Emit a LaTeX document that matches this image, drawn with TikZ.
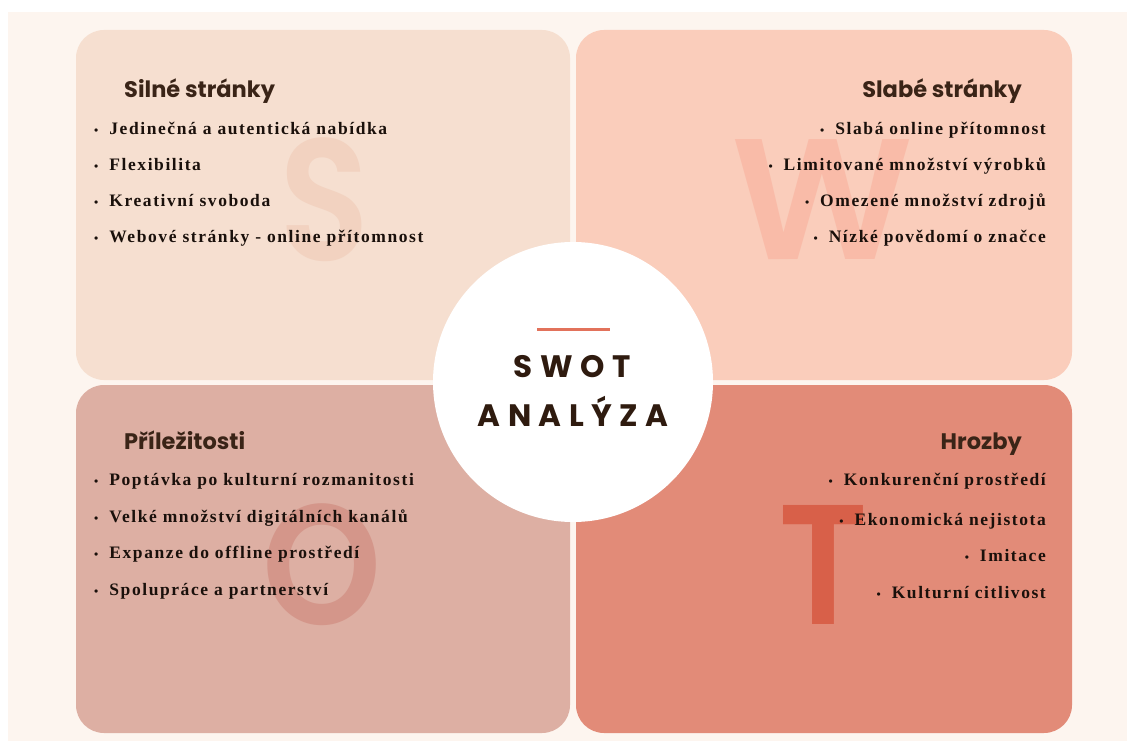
\documentclass[tikz,border=0pt]{standalone}
\usepackage{fontspec}
\setmainfont{Liberation Serif}
\newfontfamily\itemfont[LetterSpace=9]{Liberation Serif}
\newfontfamily\headfont{Poppins}
\newfontfamily\bigfont{Poppins SemiBold}
\newfontfamily\swotfont[LetterSpace=24]{Poppins}
\definecolor{bgcol}{HTML}{FDF5EF}
\definecolor{tlcol}{HTML}{F6DFD0}
\definecolor{trcol}{HTML}{FACDBB}
\definecolor{blcol}{HTML}{DDAFA3}
\definecolor{brcol}{HTML}{E28B78}
\definecolor{scol}{HTML}{F2D2C0}
\definecolor{wcol}{HTML}{F9BBA8}
\definecolor{ocol}{HTML}{D4968A}
\definecolor{tcol}{HTML}{D86049}
\definecolor{itemcol}{HTML}{1A100B}
\definecolor{headcol}{HTML}{3A2417}
\definecolor{swotcol}{HTML}{2F1B0F}
\definecolor{linecol}{HTML}{E2725B}
\newcommand{\bul}{{\fontsize{12}{12}\selectfont\textbullet}\hspace{11pt}}
\begin{document}
\begin{tikzpicture}[x=1pt,y=-1pt,
  itm/.style={font=\itemfont\bfseries\fontsize{17.5}{20}\selectfont, text=itemcol, inner sep=0pt},
  hd/.style={font=\headfont\bfseries\fontsize{22.5}{26}\selectfont, text=headcol, inner sep=0pt},
  big/.style={inner sep=0pt, font=\bigfont},
  swot/.style={font=\swotfont\bfseries\fontsize{31}{34}\selectfont, text=swotcol, inner sep=0pt},
  quad/.style={rounded corners=28pt}]
\useasboundingbox (0,0) rectangle (1127,741);
\fill[bgcol] (7.5,12) rectangle (1127,741);
\fill[tlcol, quad] (76,30) rectangle (570,380);
\fill[trcol, quad] (576,30) rectangle (1072,380);
\fill[blcol, quad] (76,385) rectangle (570,733);
\fill[brcol, quad] (576,385) rectangle (1072,733);
% big letters
\node[big, text=scol] (bigS) at (325,200) {\resizebox*{90pt}{124pt}{S}};
\node[big, text=wcol] (bigW) at (823,200) {\resizebox*{182pt}{120pt}{W}};
\node[big, text=ocol] (bigO) at (322.5,565) {\resizebox*{119pt}{122pt}{O}};
\node[big, text=tcol] (bigT) at (824,564.5) {\resizebox*{90pt}{119pt}{T}};
% headings
\node[hd, anchor=mid west] (hS) at (124,95) {Silné stránky};
\node[hd, anchor=mid east] (hW) at (1022,95) {Slabé stránky};
\node[hd, anchor=mid west] (hO) at (124,447) {Příležitosti};
\node[hd, anchor=mid east] (hT) at (1022,447) {Hrozby};
% strengths
\node[itm, anchor=mid west] (s1) at (94,132) {\bul Jedinečná a autentická nabídka};
\node[itm, anchor=mid west] (s2) at (94,168) {\bul Flexibilita};
\node[itm, anchor=mid west] (s3) at (94,204) {\bul Kreativní svoboda};
\node[itm, anchor=mid west] (s4) at (94,240) {\bul Webové stránky - online přítomnost};
% weaknesses
\node[itm, anchor=mid east] (w1) at (1046,132) {\bul Slabá online přítomnost};
\node[itm, anchor=mid east] (w2) at (1046,168) {\bul Limitované množství výrobků};
\node[itm, anchor=mid east] (w3) at (1046,204) {\bul Omezené množství zdrojů};
\node[itm, anchor=mid east] (w4) at (1046,240) {\bul Nízké povědomí o značce};
% opportunities
\node[itm, anchor=mid west] (o1) at (94,483) {\bul Poptávka po kulturní rozmanitosti};
\node[itm, anchor=mid west] (o2) at (94,520) {\bul Velké množství digitálních kanálů};
\node[itm, anchor=mid west] (o3) at (94,556) {\bul Expanze do offline prostředí};
\node[itm, anchor=mid west] (o4) at (94,593) {\bul Spolupráce a partnerství};
% threats
\node[itm, anchor=mid east] (t1) at (1046,483) {\bul Konkurenční prostředí};
\node[itm, anchor=mid east] (t2) at (1046,523) {\bul Ekonomická nejistota};
\node[itm, anchor=mid east] (t3) at (1046,559) {\bul Imitace};
\node[itm, anchor=mid east] (t4) at (1046,596) {\bul Kulturní citlivost};
% centre
\node[circle, fill=white, minimum size=280pt, inner sep=0pt] (c) at (573,382) {};
\draw[linecol, line width=3pt] (537,329) -- (610,329);
\node[swot] (sw1) at (572,367) {SWOT};
\node[swot] (sw2) at (573,411) {ANALÝZA};
\end{tikzpicture}
\end{document}
